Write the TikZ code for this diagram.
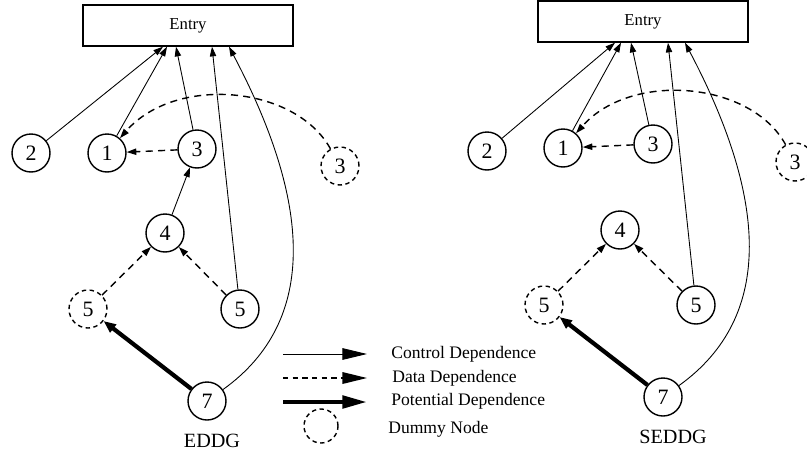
\documentclass[tikz,border=0pt]{standalone}
\usepackage{fontspec}
\setmainfont{Liberation Serif}
\usetikzlibrary{arrows.meta, calc}
\tikzstyle{stmt} = [circle, draw, line width=0.8pt, minimum size=0.76cm, inner sep=0pt, font=\fontsize{12.5}{14}\selectfont]
\tikzstyle{dummy} = [stmt, dash pattern=on 2.5pt off 2pt]
\tikzstyle{entry} = [rectangle, draw, line width=0.8pt, minimum width=4.2cm, minimum height=0.82cm, font=\fontsize{9.5}{11}\selectfont]
\tikzstyle{ctrl} = [-{Triangle[length=5.5pt,width=3.6pt]}, line width=0.5pt]
\tikzstyle{data} = [-{Triangle[length=5.5pt,width=3.6pt]}, line width=0.8pt, dash pattern=on 4pt off 3pt]
\tikzstyle{potl} = [-{Triangle[length=7pt,width=5.5pt]}, line width=2.4pt]
\tikzstyle{legctrl} = [-{Triangle[length=14pt,width=6.6pt]}, line width=0.5pt]
\tikzstyle{legdata} = [-{Triangle[length=14pt,width=6.6pt]}, line width=0.8pt, dash pattern=on 3pt off 2.5pt]
\tikzstyle{legpotl} = [-{Triangle[length=14pt,width=7pt]}, line width=2.4pt]
\tikzstyle{legtext} = [anchor=base west, inner sep=0pt, font=\fontsize{10}{12}\selectfont]
\tikzstyle{caption} = [anchor=base, inner sep=0pt, font=\fontsize{11.5}{13}\selectfont]

\begin{document}
\begin{tikzpicture}[x=0.02cm, y=-0.02cm]
  \useasboundingbox (0,0) rectangle (807,454);

  % EDDG
  \node[entry] (LEntry) at (188,25.5) {Entry};
  \node[stmt] (L2) at (31,153) {2};
  \node[stmt] (L1) at (107,153) {1};
  \node[stmt] (L3) at (197,149) {3};
  \node[dummy] (LD3) at (340,166) {3};
  \node[stmt] (L4) at (165,233) {4};
  \node[dummy] (LD5) at (88,309) {5};
  \node[stmt] (L5) at (240,309) {5};
  \node[stmt] (L7) at (207,401) {7};
  \node[caption] (LCap) at (212,447) {EDDG};

  % control dependences
  \draw[ctrl] (L2) -- ($(LEntry.south)+(-25,0)$);
  \draw[ctrl] (L1) -- ($(LEntry.south)+(-21,0)$);
  \draw[ctrl] (L3) -- ($(LEntry.south)+(-12,0)$);
  \draw[ctrl] (L5) -- ($(LEntry.south)+(24,0)$);
  \draw[ctrl] (L7) .. controls (320,320) and (310,200) .. ($(LEntry.south)+(41,0)$);
  \draw[ctrl] (L4) -- (L3);

  % data dependences
  \draw[data] (L3) -- (L1);
  \draw[data] (LD3) .. controls (295,85) and (175,75) .. (L1);
  \draw[data] (LD5) -- (L4);
  \draw[data] (L5) -- (L4);

  % potential dependence
  \draw[potl] (L7) -- (LD5);

  % SEDDG
  \node[entry] (REntry) at (643,21.5) {Entry};
  \node[stmt] (R2) at (487,151) {2};
  \node[stmt] (R1) at (563,148) {1};
  \node[stmt] (R3) at (653,144) {3};
  \node[dummy] (RD3) at (795,162) {3};
  \node[stmt] (R4) at (620,230) {4};
  \node[dummy] (RD5) at (544,305) {5};
  \node[stmt] (R5) at (696,305) {5};
  \node[stmt] (R7) at (663,397) {7};
  \node[caption] (RCap) at (673,443) {SEDDG};

  % control dependences
  \draw[ctrl] (R2) -- ($(REntry.south)+(-28,0)$);
  \draw[ctrl] (R1) -- ($(REntry.south)+(-22,0)$);
  \draw[ctrl] (R3) -- ($(REntry.south)+(-12,0)$);
  \draw[ctrl] (R5) -- ($(REntry.south)+(25,0)$);
  \draw[ctrl] (R7) .. controls (776,316) and (766,196) .. ($(REntry.south)+(42,0)$);

  % data dependences
  \draw[data] (R3) -- (R1);
  \draw[data] (RD3) .. controls (751,81) and (631,71) .. (R1);
  \draw[data] (RD5) -- (R4);
  \draw[data] (R5) -- (R4);

  % potential dependence
  \draw[potl] (R7) -- (RD5);

  % legend
  \coordinate (lc0) at (283,354);
  \coordinate (lc1) at (367,354);
  \coordinate (ld0) at (283,378);
  \coordinate (ld1) at (367,378);
  \coordinate (lp0) at (283,402);
  \coordinate (lp1) at (367,402);
  \draw[legctrl] (lc0) -- (lc1);
  \draw[legdata] (ld0) -- (ld1);
  \draw[legpotl] (lp0) -- (lp1);
  \node[dummy, minimum size=0.68cm] (ldum) at (321,426) {};
  \node[legtext] (tc) at (391,358) {Control Dependence};
  \node[legtext] (td) at (392,382) {Data Dependence};
  \node[legtext] (tp) at (391,405) {Potential Dependence};
  \node[legtext] (tn) at (388,433) {Dummy Node};
\end{tikzpicture}
\end{document}
